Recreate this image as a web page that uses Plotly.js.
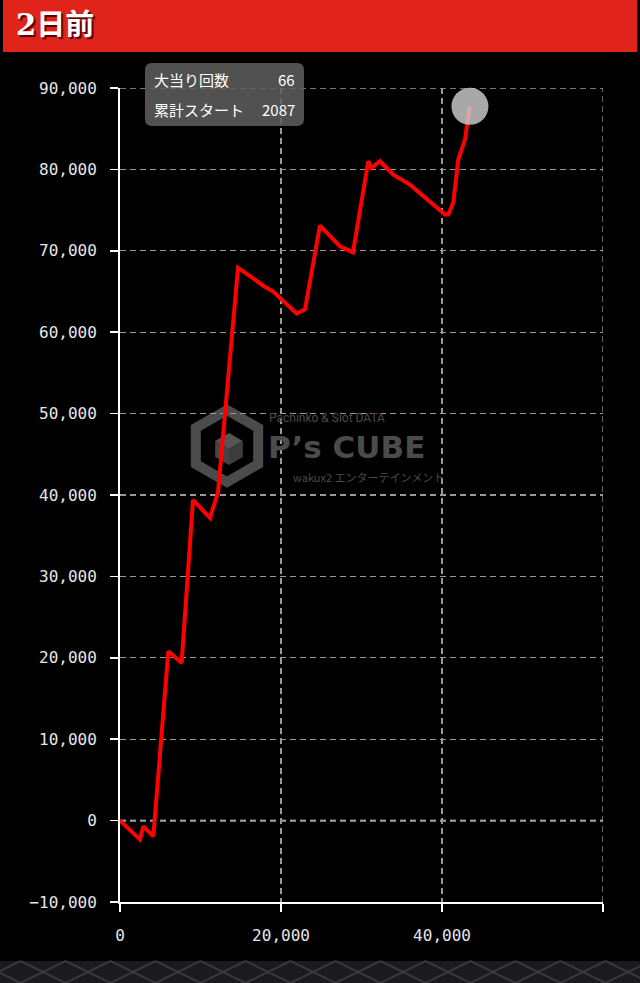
<!DOCTYPE html>
<html>
<head>
<meta charset="utf-8">
<script src="https://cdn.plot.ly/plotly-3.0.1.min.js"></script>
<style>
html,body{margin:0;padding:0;background:#000;}
#chart{width:640px;height:983px;}
</style>
</head>
<body>
<div id="chart"></div>
<script>
// ---- data ----
const headerTitle = "2日前";
const startCounts = [0, 2480, 2900, 4140, 6000, 7660, 9070, 11180, 12170, 14660, 16150, 17800, 19040, 21940, 22980, 24840, 27330, 28940, 30840, 31260, 32290, 33950, 36020, 40370, 40780, 41400, 42020, 42850, 43470];
const diffCoins = [0, -2330, -700, -1930, 20800, 19370, 39400, 37200, 40300, 67900, 66900, 65700, 65000, 62300, 62800, 73100, 70550, 69800, 81000, 80180, 81000, 79360, 78130, 74450, 74450, 75900, 81200, 83660, 87750];
const xTickVals = [0, 20000, 40000, 60000];
const xTickText = ["0", "20,000", "40,000", ""];
const yTickVals = [-10000, 0, 10000, 20000, 30000, 40000, 50000, 60000, 70000, 80000, 90000];
const infoLabels = ["大当り回数", "累計スタート"];
const infoValues = ["66", "2087"];

// ---- layout geometry (pixels) ----
const W = 640, H = 983;
const M = {l: 120, r: 37, t: 88, b: 81};
const PW = W - M.l - M.r, PH = H - M.t - M.b;
const X = px => (px - M.l) / PW;
const Y = py => (H - M.b - py) / PH;

function roundedRect(x0, y0, x1, y1, r) {
  const p = [];
  p.push(`M${X(x0 + r)},${Y(y0)}`);
  p.push(`L${X(x1 - r)},${Y(y0)}`);
  p.push(`Q${X(x1)},${Y(y0)} ${X(x1)},${Y(y0 + r)}`);
  p.push(`L${X(x1)},${Y(y1 - r)}`);
  p.push(`Q${X(x1)},${Y(y1)} ${X(x1 - r)},${Y(y1)}`);
  p.push(`L${X(x0 + r)},${Y(y1)}`);
  p.push(`Q${X(x0)},${Y(y1)} ${X(x0)},${Y(y1 - r)}`);
  p.push(`L${X(x0)},${Y(y0 + r)}`);
  p.push(`Q${X(x0)},${Y(y0)} ${X(x0 + r)},${Y(y0)}`);
  p.push('Z');
  return p.join(' ');
}
function poly(pts) {
  return pts.map((p, i) => (i ? 'L' : 'M') + X(p[0]) + ',' + Y(p[1])).join(' ') + ' Z';
}

// bottom lattice
let lat = '';
for (let cx = -2; cx < W + 50; cx += 45) {
  lat += `M${X(cx - 22.5)},${Y(961)} L${X(cx + 22.5)},${Y(983)} `;
  lat += `M${X(cx - 22.5)},${Y(983)} L${X(cx + 22.5)},${Y(961)} `;
}

// watermark cube
const hc = [227, 446], hr = 36;
const hex = [];
for (let k = 0; k < 6; k++) {
  const a = Math.PI / 2 + k * Math.PI / 3;
  hex.push([hc[0] + hr * Math.cos(a), hc[1] - hr * Math.sin(a)]);
}
const cc = [229, 449], cr = 16;
const cv = a => [cc[0] + cr * Math.cos(a), cc[1] - cr * Math.sin(a)];
const d30 = Math.PI / 6;
const cTop = cv(Math.PI / 2), cUR = cv(d30), cLR = cv(-d30), cBot = cv(-Math.PI / 2), cLL = cv(Math.PI + d30), cUL = cv(Math.PI - d30);
const wm = '#4b4b4b';
const gridCol = '#9a9a9a';

const shapes = [
  {type: 'rect', xref: 'paper', yref: 'paper', x0: X(3), x1: X(637), y0: Y(52), y1: Y(0), fillcolor: '#e0241b', line: {width: 0}, layer: 'below'},
  {type: 'rect', xref: 'paper', yref: 'paper', x0: X(0), x1: X(640), y0: Y(983), y1: Y(961), fillcolor: '#1b1b1d', line: {width: 0}, layer: 'below'},
  {type: 'path', xref: 'paper', yref: 'paper', path: lat, line: {color: '#38383b', width: 2}, layer: 'below'},
  // watermark
  {type: 'path', xref: 'paper', yref: 'paper', path: poly(hex), line: {color: wm, width: 10}, fillcolor: 'rgba(0,0,0,0)', layer: 'below'},
  {type: 'path', xref: 'paper', yref: 'paper', path: poly([cTop, cUR, cc, cUL]), line: {width: 0}, fillcolor: '#555', layer: 'below'},
  {type: 'path', xref: 'paper', yref: 'paper', path: poly([cUL, cc, cBot, cLL]), line: {width: 0}, fillcolor: '#454545', layer: 'below'},
  {type: 'path', xref: 'paper', yref: 'paper', path: poly([cc, cUR, cLR, cBot]), line: {width: 0}, fillcolor: '#3c3c3c', layer: 'below'},
  // edge grid lines (top and right)
  {type: 'line', xref: 'paper', yref: 'y', x0: 0, x1: 1, y0: 90000, y1: 90000, line: {color: gridCol, width: 1.3, dash: '6px,4px'}, layer: 'below'},
  {type: 'line', xref: 'x', yref: 'paper', x0: 60000, x1: 60000, y0: 0, y1: 1, line: {color: gridCol, width: 1.3, dash: '6px,4px'}, layer: 'below'},
  // zero line
  {type: 'line', xref: 'paper', yref: 'y', x0: 0, x1: 1, y0: 0, y1: 0, line: {color: '#ffffff', width: 1.6, dash: '6px,4px'}, layer: 'below'},
  // info box
  {type: 'path', xref: 'paper', yref: 'paper', path: roundedRect(145, 63, 304, 126, 7), fillcolor: 'rgba(95,95,95,0.85)', line: {width: 0}, layer: 'above'}
];

const annFont = {family: 'Noto Sans CJK JP, sans-serif', size: 15, color: '#ffffff'};
const annotations = [
  {xref: 'paper', yref: 'paper', x: X(152), y: Y(79), xanchor: 'left', yanchor: 'middle', text: infoLabels[0], showarrow: false, font: annFont},
  {xref: 'paper', yref: 'paper', x: X(297), y: Y(79), xanchor: 'right', yanchor: 'middle', text: infoValues[0], showarrow: false, font: annFont},
  {xref: 'paper', yref: 'paper', x: X(152), y: Y(110), xanchor: 'left', yanchor: 'middle', text: infoLabels[1], showarrow: false, font: annFont},
  {xref: 'paper', yref: 'paper', x: X(297), y: Y(110), xanchor: 'right', yanchor: 'middle', text: infoValues[1], showarrow: false, font: annFont},
  // watermark text
  {xref: 'paper', yref: 'paper', x: X(267), y: Y(418), xanchor: 'left', yanchor: 'middle', text: 'Pachinko &amp; Slot DATA', showarrow: false, font: {family: 'Roboto, sans-serif', size: 12, color: wm}},
  {xref: 'paper', yref: 'paper', x: X(266), y: Y(447), xanchor: 'left', yanchor: 'middle', text: "P’s CUBE", showarrow: false, font: {family: 'DejaVu Sans, sans-serif', size: 31, weight: 'bold', color: wm}},
  {xref: 'paper', yref: 'paper', x: X(446), y: Y(477), xanchor: 'right', yanchor: 'middle', text: 'wakux2 エンターテインメント', showarrow: false, font: {family: 'Noto Sans CJK JP, sans-serif', size: 11, color: wm}}
];

const traces = [
  {x: startCounts, y: diffCoins, type: 'scatter', mode: 'lines', line: {color: '#ff0000', width: 4}, hoverinfo: 'skip'},
  {x: [startCounts[startCounts.length - 1]], y: [diffCoins[diffCoins.length - 1]], type: 'scatter', mode: 'markers',
   marker: {size: 37, color: 'rgba(205,205,205,0.82)', line: {width: 0}}, cliponaxis: false, hoverinfo: 'skip'}
];

const tickFont = {family: 'DejaVu Sans Mono, monospace', size: 16, color: '#e6e6e6'};
const layout = {
  width: W, height: H,
  margin: M,
  paper_bgcolor: '#000000',
  plot_bgcolor: 'rgba(0,0,0,0)',
  showlegend: false,
  hovermode: false,
  title: {text: headerTitle, xref: 'container', yref: 'container', x: 16 / W, y: 1 - 25 / H, xanchor: 'left', yanchor: 'middle',
          font: {family: 'DejaVu Serif, Noto Sans CJK JP, serif', size: 29, weight: 'bold', color: '#ffffff', shadow: '2px 2px 1px #5a0000'}},
  xaxis: {range: [0, 60000], tickvals: xTickVals, ticktext: xTickText, showgrid: true, gridcolor: gridCol, gridwidth: 1.3, griddash: '6px,4px',
          zeroline: false, showline: true, linecolor: '#ffffff', linewidth: 2, ticks: 'outside', ticklen: 8, tickwidth: 1.5, tickcolor: '#ffffff',
          tickfont: tickFont, ticklabelstandoff: 10, fixedrange: true},
  yaxis: {range: [-10000, 90000], tickvals: yTickVals, tickformat: ',d', showgrid: true, gridcolor: gridCol, gridwidth: 1.3, griddash: '6px,4px',
          zeroline: false, showline: true, linecolor: '#ffffff', linewidth: 2, ticks: 'outside', ticklen: 8, tickwidth: 1.5, tickcolor: '#ffffff',
          tickfont: tickFont, ticklabelstandoff: 10, fixedrange: true},
  shapes: shapes,
  annotations: annotations
};

Plotly.newPlot('chart', traces, layout, {displayModeBar: false, staticPlot: true});
</script>
</body>
</html>
